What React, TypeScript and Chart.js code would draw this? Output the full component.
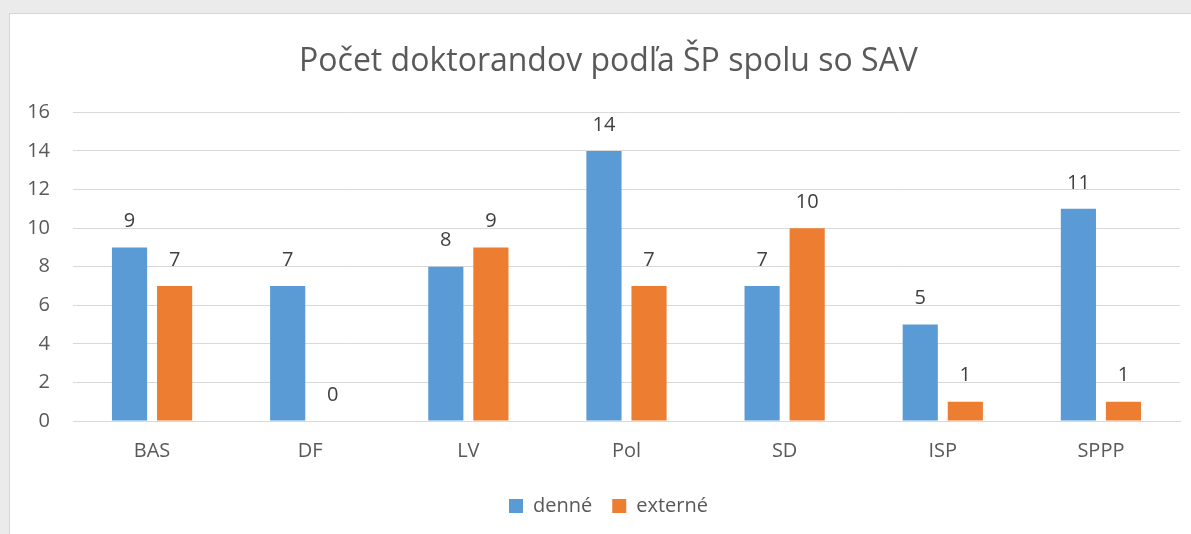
import React, { useEffect, useRef } from "react";
import { Chart, registerables } from "chart.js";

Chart.register(...registerables);

const categories = ["BAS", "DF", "LV", "Pol", "SD", "ISP", "SPPP"];
const denne = [9, 7, 8, 14, 7, 5, 11];
const externe = [7, 0, 9, 7, 10, 1, 1];
const seriesNames = ["denné", "externé"];
const titleText = "Počet doktorandov podľa ŠP spolu so SAV";

const FONT = "'Open Sans', 'Noto Sans', sans-serif";
const TEXT = "#595959";

const dataLabels = {
  id: "dataLabels",
  afterDatasetsDraw(chart: any) {
    const ctx = chart.ctx;
    ctx.save();
    ctx.font = `20px ${FONT}`;
    ctx.fillStyle = "#404040";
    ctx.textAlign = "center";
    ctx.textBaseline = "middle";
    chart.data.datasets.forEach((ds: any, i: number) => {
      const meta = chart.getDatasetMeta(i);
      meta.data.forEach((el: any, j: number) => {
        ctx.fillText(String(ds.data[j]), el.x, el.y - 26);
      });
    });
    ctx.restore();
  },
};

export default function App() {
  const ref = useRef<HTMLCanvasElement>(null);
  useEffect(() => {
    document.body.style.margin = "0";
    const chart = new Chart(ref.current!, {
      type: "bar",
      data: {
        labels: categories,
        datasets: [
          { label: seriesNames[0], data: denne, backgroundColor: "#5B9BD5", categoryPercentage: 0.57, barPercentage: 0.78 },
          { label: seriesNames[1], data: externe, backgroundColor: "#ED7D31", categoryPercentage: 0.57, barPercentage: 0.78 },
        ],
      },
      options: {
        animation: false,
        responsive: false,
        maintainAspectRatio: false,
        layout: { padding: { left: 37, right: 11, top: 14, bottom: 8 } },
        plugins: {
          title: {
            display: true,
            text: titleText,
            color: TEXT,
            font: { family: FONT, size: 32, weight: "normal" },
            padding: { top: 29, bottom: 31 },
          },
          legend: {
            position: "bottom",
            labels: {
              color: TEXT,
              font: { family: FONT, size: 20 },
              boxWidth: 14,
              boxHeight: 14,
              padding: 20,
            },
          },
          tooltip: { enabled: false },
        },
        scales: {
          x: {
            grid: { display: false, drawTicks: false, tickLength: 0 },
            border: { color: "#d9d9d9" },
            ticks: { color: TEXT, font: { family: FONT, size: 20 }, padding: 18 },
            afterFit: (scale: any) => {
              scale.height -= 5;
            },
          },
          y: {
            min: 0,
            max: 16,
            ticks: { stepSize: 2, color: TEXT, font: { family: FONT, size: 20 }, padding: 23 },
            grid: { color: "#d9d9d9", drawTicks: false },
            border: { display: false },
            afterFit: (scale: any) => {
              scale.width = 36;
              scale._computeLabelArea = () => undefined;
            },
          },
        },
      },
      plugins: [dataLabels],
    });
    return () => chart.destroy();
  }, []);
  return (
    <div style={{ position: "relative", width: 1191, height: 534, background: "#ebebeb", overflow: "hidden" }}>
      <div
        style={{
          position: "absolute",
          left: 9,
          top: 13,
          width: 1200,
          height: 540,
          background: "#ffffff",
          borderLeft: "1px solid #d6d6d6",
          borderTop: "1px solid #d6d6d6",
        }}
      />
      <canvas ref={ref} width={1191} height={534} style={{ position: "absolute", left: 0, top: 0 }} />
    </div>
  );
}
